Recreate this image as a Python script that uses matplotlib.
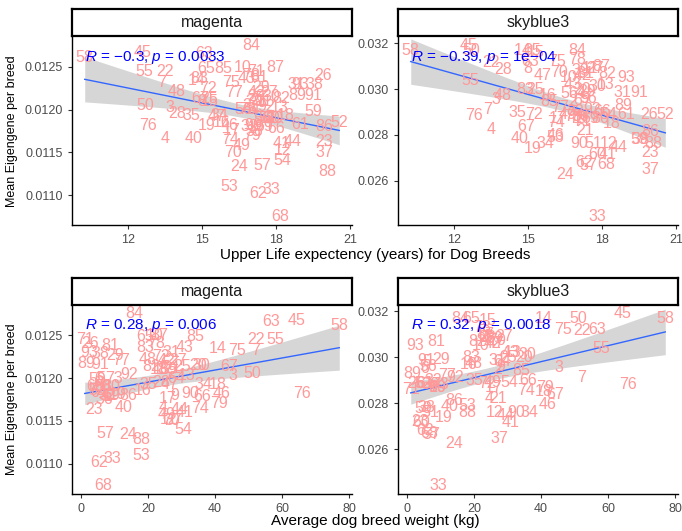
import matplotlib
matplotlib.use('Agg')
import matplotlib.pyplot as plt
import numpy as np

plt.rcParams['font.family'] = ['Liberation Sans', 'DejaVu Sans']
plt.rcParams['mathtext.fontset'] = 'custom'
plt.rcParams['mathtext.rm'] = 'Liberation Sans'
plt.rcParams['mathtext.it'] = 'Liberation Sans:italic'

# breed ids 1..93
breed = list(range(1, 94))

life = [17.0, 16.8, 13.7, 13.5, 16.5, 17.0, 13.35, 15.0, 17.3, 16.65,
        17.5, 18.25, 18.15, 14.8, 15.3, 15.8, 16.2, 18.4, 15.2, 17.2,
        17.3, 13.5, 19.95, 16.5, 15.3, 19.9, 17.7, 14.0, 17.4, 17.8,
        18.8, 16.9, 17.8, 15.7, 14.55, 17.1, 19.95, 19.55, 17.1, 14.65,
        18.2, 17.2, 16.8, 18.65, 12.6, 16.1, 15.6, 13.95, 16.6, 12.7,
        17.65, 20.55, 16.1, 18.25, 12.65, 17.45, 17.45, 10.25, 19.5, 17.8,
        18.95, 17.25, 15.1, 17.0, 15.15, 18.0, 14.9, 18.15, 17.5, 16.25,
        17.2, 15.25, 16.8, 16.15, 16.15, 12.8, 16.3, 17.0, 17.0, 17.9,
        17.3, 18.2, 14.9, 17.0, 15.85, 19.95, 17.95, 20.05, 18.85, 17.05,
        19.5, 17.6, 18.95]

weight = [8.0, 27.1, 45.2, 24.5, 6.0, 5.5, 52.1, 24.0, 28.0, 22.0,
          23.0, 26.2, 31.5, 40.8, 24.0, 18.3, 26.0, 40.7, 11.0, 35.0,
          27.1, 52.1, 3.9, 14.2, 30.1, 2.8, 29.0, 24.0, 10.3, 35.8,
          27.0, 8.0, 9.4, 36.6, 20.1, 7.0, 27.6, 6.0, 26.0, 12.9,
          31.0, 25.5, 30.9, 29.5, 64.2, 41.8, 26.5, 20.0, 25.5, 51.0,
          7.0, 5.0, 18.0, 30.5, 57.8, 6.5, 7.4, 77.0, 4.9, 4.2,
          5.5, 5.4, 56.6, 28.5, 19.2, 36.2, 44.2, 6.6, 9.0, 27.0,
          1.2, 24.0, 10.0, 35.5, 46.5, 65.8, 12.0, 22.5, 41.3, 9.0,
          8.7, 21.0, 19.3, 16.0, 34.0, 14.0, 23.5, 18.0, 1.5, 32.5,
          5.9, 14.5, 2.5]

magenta = [0.01178, 0.01205, 0.01203, 0.01166, 0.01200, 0.01200, 0.01232, 0.01210, 0.01180, 0.01249,
           0.01210, 0.01152, 0.01203, 0.01234, 0.01210, 0.01185, 0.01176, 0.01193, 0.01181, 0.01215,
           0.01211, 0.01245, 0.01163, 0.01134, 0.01213, 0.01240, 0.01220, 0.01195, 0.01226, 0.01215,
           0.01230, 0.01180, 0.01106, 0.01193, 0.01193, 0.01175, 0.01150, 0.01229, 0.01210, 0.01166,
           0.01160, 0.01220, 0.01236, 0.01163, 0.01267, 0.01182, 0.01192, 0.01221, 0.01158, 0.01205,
           0.01190, 0.01185, 0.01110, 0.01140, 0.01245, 0.01190, 0.01135, 0.01261, 0.01198, 0.01190,
           0.01183, 0.01102, 0.01266, 0.01200, 0.01248, 0.01178, 0.01213, 0.01075, 0.01180, 0.01150,
           0.01245, 0.01225, 0.01200, 0.01165, 0.01232, 0.01182, 0.01220, 0.01240, 0.01170, 0.01190,
           0.01238, 0.01213, 0.01236, 0.01275, 0.01248, 0.01180, 0.01249, 0.01128, 0.01217, 0.01182,
           0.01216, 0.01204, 0.01230]

skyblue3 = [0.0287, 0.02947, 0.02955, 0.02823, 0.0298, 0.0295, 0.0291, 0.0309, 0.0296, 0.0305,
            0.0309, 0.0276, 0.0302, 0.03167, 0.0316, 0.0297, 0.0287, 0.0285, 0.02738, 0.0300,
            0.0282, 0.03115, 0.02723, 0.02625, 0.0300, 0.02887, 0.0309, 0.03085, 0.0299, 0.0301,
            0.02984, 0.0290, 0.02443, 0.0276, 0.02898, 0.0288, 0.02647, 0.0278, 0.0308, 0.02785,
            0.02715, 0.0306, 0.0302, 0.02745, 0.0319, 0.02795, 0.03058, 0.02972, 0.0289, 0.0317,
            0.0276, 0.02887, 0.0279, 0.0289, 0.03038, 0.0296, 0.02665, 0.0317, 0.02778, 0.02715,
            0.02887, 0.0268, 0.0312, 0.0298, 0.03168, 0.0290, 0.02838, 0.0267, 0.0287, 0.03073,
            0.0286, 0.02887, 0.0288, 0.02855, 0.0312, 0.02883, 0.0292, 0.0313, 0.0287, 0.0287,
            0.0307, 0.0307, 0.0300, 0.0317, 0.02944, 0.02813, 0.0310, 0.0276, 0.0293, 0.0276,
            0.02984, 0.0291, 0.0305]

stat_text = {
    ('life', 'magenta'): r'$R$ = −0.3, $p$ = 0.0033',
    ('life', 'skyblue3'): r'$R$ = −0.39, $p$ = 1e−04',
    ('weight', 'magenta'): r'$R$ = 0.28, $p$ = 0.006',
    ('weight', 'skyblue3'): r'$R$ = 0.32, $p$ = 0.0018',
}

W, H = 682, 531
fig = plt.figure(figsize=(W / 100, H / 100), dpi=100)

def rect(x0, y0, x1, y1):
    return [x0 / W, 1 - y1 / H, (x1 - x0) / W, (y1 - y0) / H]

label_col = '#FF9999'

def panel(x, y, name, box, strip, xticks, yticks, yfmt, xkey, ylabel):
    ax = fig.add_axes(rect(*box))
    x = np.array(x)
    y = np.array(y)

    # limits like ggplot (5% expansion)
    xr = x.max() - x.min()
    yr = y.max() - y.min()
    ax.set_xlim(x.min() - 0.05 * xr, x.max() + 0.05 * xr)
    ax.set_ylim(y.min() - 0.05 * yr, y.max() + 0.05 * yr)

    # linear fit + 95% confidence band
    b, a = np.polyfit(x, y, 1)
    xs = np.linspace(x.min(), x.max(), 80)
    fit = a + b * xs
    n = len(x)
    resid = y - (a + b * x)
    s = np.sqrt(np.sum(resid ** 2) / (n - 2))
    se = s * np.sqrt(1 / n + (xs - x.mean()) ** 2 / np.sum((x - x.mean()) ** 2))
    t = 1.987
    ax.fill_between(xs, fit - t * se, fit + t * se, color='#999999', alpha=0.4, lw=0, zorder=1)
    ax.plot(xs, fit, color='#3366FF', lw=1, zorder=2)

    for bi, xi, yi in zip(breed, x, y):
        ax.text(xi, yi, str(bi), color=label_col, fontsize=11.5, ha='center', va='center',
                clip_on=True, zorder=3)

    ax.text(0.045, 0.89, stat_text[(xkey, name)], transform=ax.transAxes, color='blue',
            fontsize=11, ha='left', va='center', zorder=4)

    ax.set_xticks(xticks)
    ax.set_yticks(yticks)
    ax.set_yticklabels([yfmt.format(v) for v in yticks])
    ax.tick_params(colors='#4D4D4D', labelsize=9, length=3, width=0.8, direction='out')
    ax.tick_params(axis='both', color='#333333')
    for side in ['top', 'right']:
        ax.spines[side].set_visible(False)
    for side in ['left', 'bottom']:
        ax.spines[side].set_linewidth(1.0)
        ax.spines[side].set_color('black')
    if ylabel:
        ax.set_ylabel('Mean Eigengene per breed', fontsize=9, color='black', labelpad=5)

    # strip on top
    sx = fig.add_axes(rect(*strip))
    sx.set_xticks([])
    sx.set_yticks([])
    for sp in sx.spines.values():
        sp.set_linewidth(1.6)
        sp.set_color('black')
    sx.text(0.5, 0.5, name, ha='center', va='center', fontsize=11.5, color='#1A1A1A',
            transform=sx.transAxes)
    return ax

panel(life, magenta, 'magenta', (72, 37, 352, 225), (72, 9, 352, 36),
      [12, 15, 18, 21], [0.0110, 0.0115, 0.0120, 0.0125], '{:.4f}', 'life', True)
panel(life, skyblue3, 'skyblue3', (398, 37, 678, 225), (398, 9, 678, 36),
      [12, 15, 18, 21], [0.026, 0.028, 0.030, 0.032], '{:.3f}', 'life', False)
panel(weight, magenta, 'magenta', (72, 305, 352, 494), (72, 278, 352, 305),
      [0, 20, 40, 60, 80], [0.0110, 0.0115, 0.0120, 0.0125], '{:.4f}', 'weight', True)
panel(weight, skyblue3, 'skyblue3', (398, 305, 678, 494), (398, 278, 678, 305),
      [0, 20, 40, 60, 80], [0.026, 0.028, 0.030, 0.032], '{:.3f}', 'weight', False)

fig.text(375 / W, 1 - 255 / H, 'Upper Life expectency (years) for Dog Breeds',
         ha='center', va='center', fontsize=11, color='black')
fig.text(375 / W, 1 - 521 / H, 'Average dog breed weight (kg)',
         ha='center', va='center', fontsize=11, color='black')

fig.savefig('out.png', dpi=100)
